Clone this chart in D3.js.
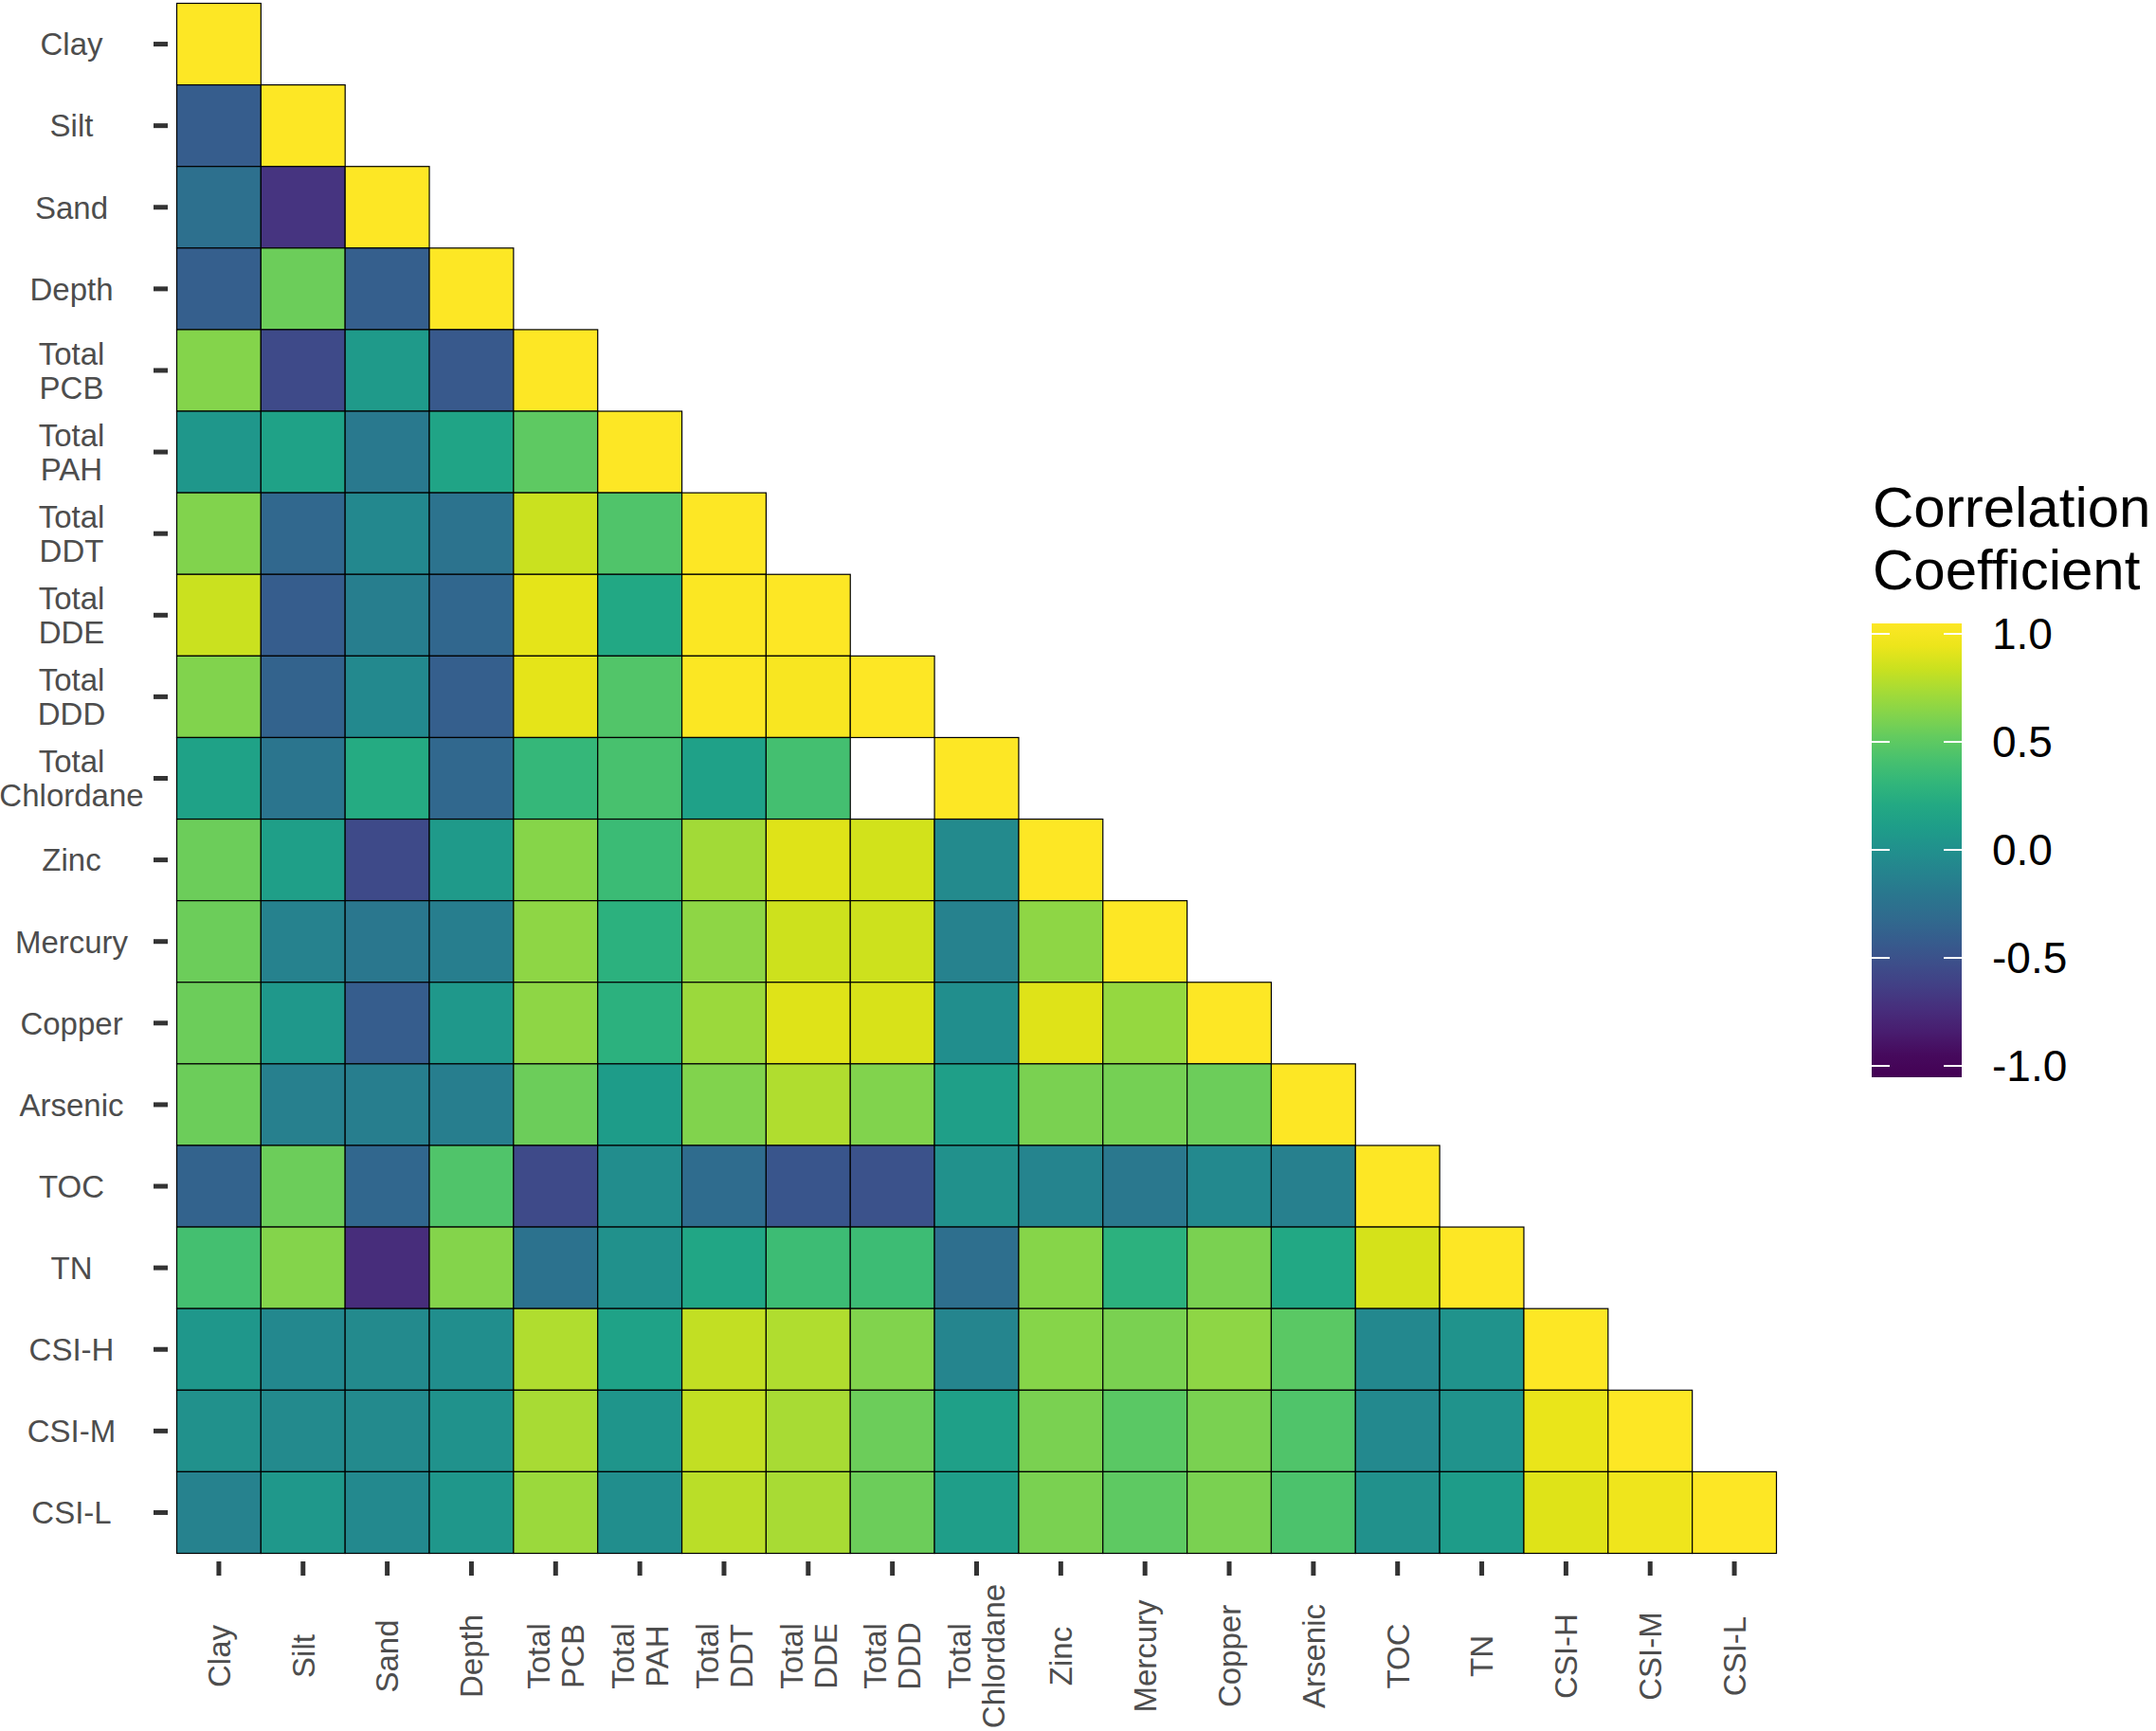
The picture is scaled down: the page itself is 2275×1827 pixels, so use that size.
<!DOCTYPE html>
<html>
<head>
<meta charset="utf-8">
<script src="https://cdn.jsdelivr.net/npm/d3@7"></script>
<style>
  body { margin: 0; background: #fff; }
  svg text { font-family: "Liberation Sans", Arial, sans-serif; }
</style>
</head>
<body>
<script>
// variables, in plotting order (top->bottom, left->right)
var variables = ["Clay", "Silt", "Sand", "Depth", "Total\nPCB", "Total\nPAH", "Total\nDDT",
  "Total\nDDE", "Total\nDDD", "Total\nChlordane", "Zinc", "Mercury", "Copper", "Arsenic",
  "TOC", "TN", "CSI-H", "CSI-M", "CSI-L"];

// lower triangle of the correlation matrix, one array per row (null = missing)
var lowerTriangle = [
  [1],
  [-0.42, 1],
  [-0.27, -0.70, 1],
  [-0.40, 0.55, -0.40, 1],
  [0.63, -0.55, 0.08, -0.45, 1],
  [0.06, 0.15, -0.19, 0.17, 0.50, 1],
  [0.62, -0.33, -0.07, -0.24, 0.84, 0.45, 1],
  [0.84, -0.42, -0.15, -0.34, 0.92, 0.20, 0.99, 1],
  [0.62, -0.37, -0.06, -0.40, 0.92, 0.46, 0.99, 0.98, 1],
  [0.15, -0.22, 0.22, -0.33, 0.33, 0.42, 0.14, 0.40, null, 1],
  [0.55, 0.12, -0.55, 0.08, 0.64, 0.36, 0.72, 0.90, 0.86, -0.05, 1],
  [0.55, -0.12, -0.21, -0.15, 0.66, 0.28, 0.66, 0.85, 0.85, -0.11, 0.66, 1],
  [0.55, 0.07, -0.42, 0.07, 0.66, 0.28, 0.70, 0.90, 0.88, -0.02, 0.90, 0.68, 1],
  [0.55, -0.14, -0.15, -0.15, 0.55, 0.10, 0.62, 0.76, 0.62, 0.12, 0.60, 0.58, 0.55, 1],
  [-0.37, 0.55, -0.34, 0.45, -0.55, -0.03, -0.30, -0.47, -0.50, 0.00, -0.10, -0.20, -0.06, -0.14, 1],
  [0.40, 0.63, -0.75, 0.63, -0.25, 0.00, 0.18, 0.37, 0.37, -0.28, 0.64, 0.28, 0.60, 0.20, 0.87, 1],
  [0.06, -0.07, -0.05, -0.02, 0.76, 0.15, 0.82, 0.76, 0.62, -0.09, 0.64, 0.60, 0.66, 0.49, -0.07, 0.03, 1],
  [0.00, -0.05, -0.05, 0.01, 0.74, 0.04, 0.82, 0.74, 0.55, 0.13, 0.60, 0.49, 0.60, 0.45, -0.06, 0.03, 0.93, 1],
  [-0.11, 0.07, -0.06, 0.06, 0.70, -0.02, 0.79, 0.74, 0.55, 0.11, 0.60, 0.50, 0.60, 0.43, 0.00, 0.10, 0.90, 0.95, 1]
];

var legendTicks = [1.0, 0.5, 0.0, -0.5, -1.0];
var legendTitle = ["Correlation", "Coefficient"];

var width = 2275, height = 1827;
var fs = 33, lineH = 36;

var cells = [];
lowerTriangle.forEach(function(row, i) {
  row.forEach(function(v, j) {
    if (v !== null) cells.push({row: variables[i], col: variables[j], value: v});
  });
});

var x = d3.scaleBand().domain(variables).range([186.5, 1874.5]);
var y = d3.scaleBand().domain(variables).range([3.5, 1639.5]);
var color = d3.scaleSequential(d3.interpolateViridis).domain([-1, 1]);

var svg = d3.select("body").append("svg")
  .attr("width", width)
  .attr("height", height);

// tiles
svg.append("g").selectAll("rect")
  .data(cells)
  .enter()
  .append("rect")
  .attr("x", function(d) { return x(d.col); })
  .attr("y", function(d) { return y(d.row); })
  .attr("width", x.bandwidth())
  .attr("height", y.bandwidth())
  .attr("fill", function(d) { return color(d.value); })
  .attr("stroke", "#000")
  .attr("stroke-width", 1.2);

// y axis
var yAxis = svg.append("g")
  .attr("transform", "translate(177,0)")
  .call(d3.axisLeft(y).tickSize(15).tickFormat(""));
yAxis.select(".domain").remove();
yAxis.selectAll(".tick line").attr("stroke", "#333").attr("stroke-width", 5);

yAxis.selectAll(".tick").each(function(d) {
  var lines = d.split("\n");
  var t = d3.select(this).append("text")
    .attr("fill", "#4d4d4d")
    .attr("font-size", fs)
    .attr("text-anchor", "middle");
  lines.forEach(function(l, k) {
    t.append("tspan")
      .attr("x", 75.5 - 177)
      .attr("y", -(lines.length - 1) * lineH / 2 + k * lineH + fs * 0.358)
      .text(l);
  });
});

// x axis
var xAxis = svg.append("g")
  .attr("transform", "translate(0,1648)")
  .call(d3.axisBottom(x).tickSize(15).tickFormat(""));
xAxis.select(".domain").remove();
xAxis.selectAll(".tick line").attr("stroke", "#333").attr("stroke-width", 5);

xAxis.selectAll(".tick").each(function(d) {
  var lines = d.split("\n");
  var t = d3.select(this).append("text")
    .attr("fill", "#4d4d4d")
    .attr("font-size", fs)
    .attr("text-anchor", "middle")
    .attr("transform", "translate(0,100) rotate(-90)");
  lines.forEach(function(l, k) {
    t.append("tspan")
      .attr("x", 0)
      .attr("y", -(lines.length - 1) * lineH / 2 + k * lineH + fs * 0.358)
      .text(l);
  });
});

// legend
var legend = svg.append("g");
var ly = d3.scaleLinear().domain([-1, 1]).range([1125, 669]);
var barTop = 658, barBottom = 1137, barX = 1975, barW = 95;

var grad = svg.append("defs").append("linearGradient")
  .attr("id", "viridisGrad")
  .attr("x1", 0).attr("y1", 1).attr("x2", 0).attr("y2", 0);
d3.range(0, 1.0001, 0.05).forEach(function(t) {
  var yy = barBottom - t * (barBottom - barTop);
  grad.append("stop")
    .attr("offset", t)
    .attr("stop-color", color(Math.max(-1, Math.min(1, ly.invert(yy)))));
});

legend.append("rect")
  .attr("x", barX).attr("y", barTop)
  .attr("width", barW).attr("height", barBottom - barTop)
  .attr("fill", "url(#viridisGrad)");

legend.selectAll(".ltick")
  .data(legendTicks)
  .enter()
  .append("g")
  .each(function(d) {
    var g = d3.select(this);
    g.append("line").attr("x1", barX).attr("x2", barX + 19)
      .attr("y1", ly(d)).attr("y2", ly(d))
      .attr("stroke", "#fff").attr("stroke-width", 2);
    g.append("line").attr("x1", barX + barW - 19).attr("x2", barX + barW)
      .attr("y1", ly(d)).attr("y2", ly(d))
      .attr("stroke", "#fff").attr("stroke-width", 2);
    g.append("text")
      .attr("x", 2102)
      .attr("y", ly(d) + 16)
      .attr("font-size", 46)
      .attr("fill", "#000")
      .text(d3.format(".1f")(d).replace("−", "-"));
  });

legend.selectAll(".ltitle")
  .data(legendTitle)
  .enter()
  .append("text")
  .attr("x", 1976)
  .attr("y", function(d, i) { return 556 + i * 66; })
  .attr("font-size", 60)
  .attr("fill", "#000")
  .text(function(d) { return d; });
</script>
</body>
</html>
